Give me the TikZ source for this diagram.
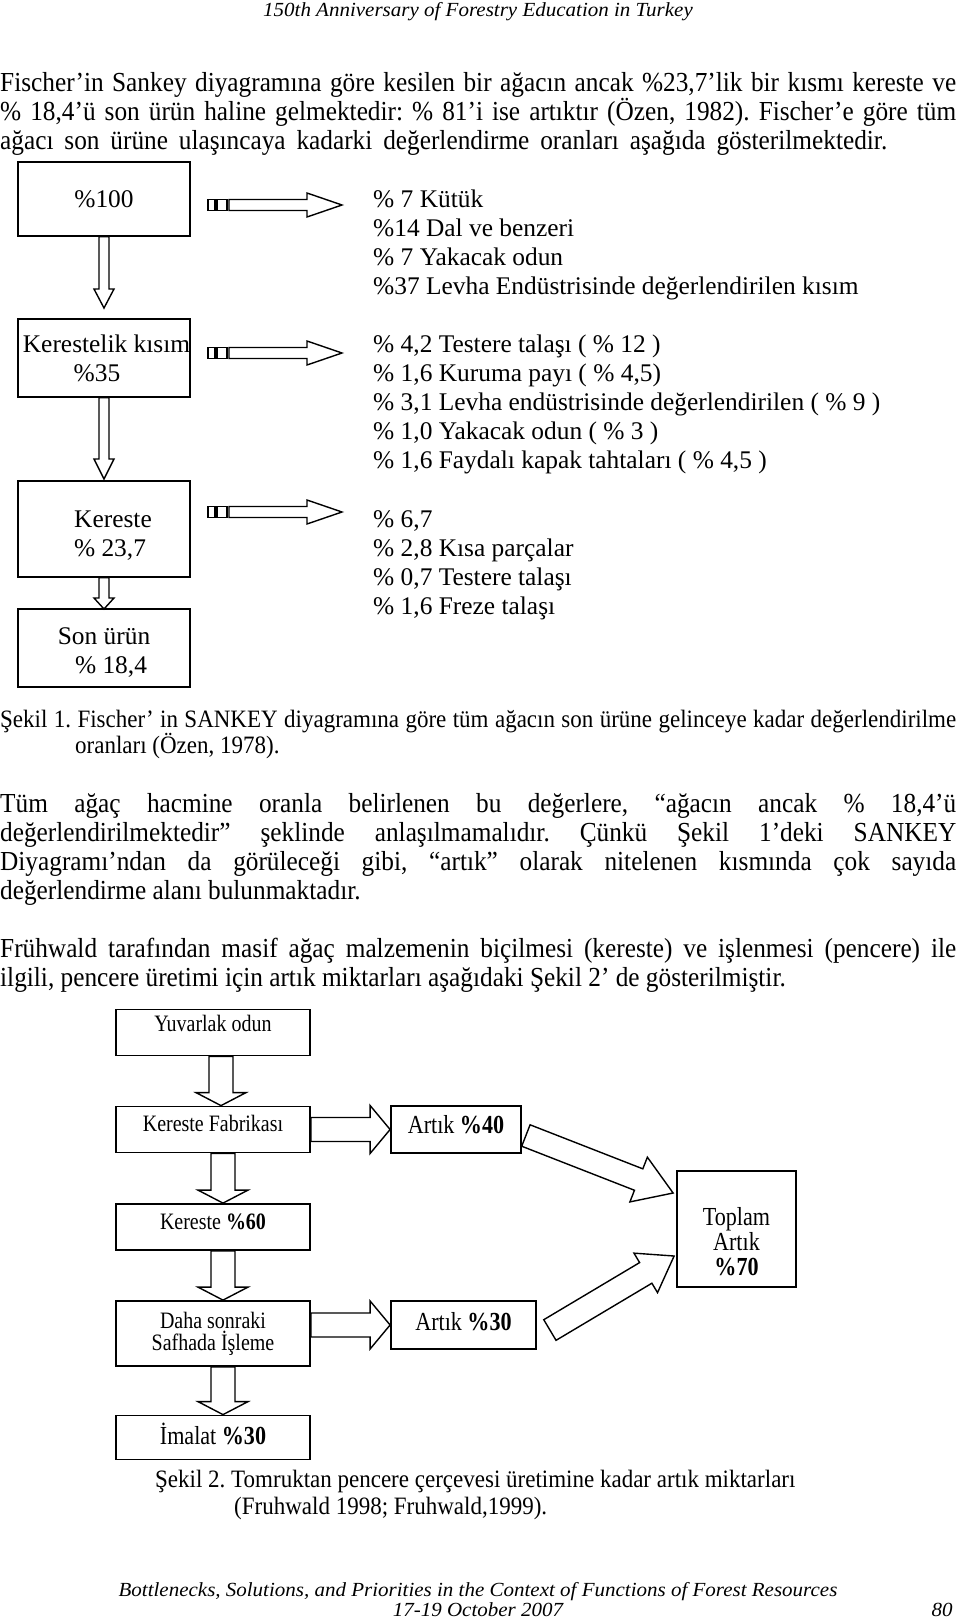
\documentclass[tikz,border=0pt]{standalone}
\usepackage{fontspec}
\setmainfont{Liberation Serif}
\newfontfamily\bodyfont[FakeStretch=0.92]{Liberation Serif}
\newfontfamily\narrowfont[FakeStretch=0.85]{Liberation Serif}
\newfontfamily\pagefont[FakeStretch=1.05]{Liberation Serif}
\usetikzlibrary{calc}
\frenchspacing

\tikzset{
  pagetext/.style={anchor=base west, inner sep=0pt, font=\bodyfont\fontsize{27.5}{29}\selectfont},
  captext/.style={anchor=base west, inner sep=0pt, font=\bodyfont\fontsize{25}{27}\selectfont},
  headtext/.style={anchor=base, inner sep=0pt, font=\pagefont\itshape\fontsize{20}{20}\selectfont},
  listtext/.style={anchor=base west, inner sep=0pt, font=\fontsize{25.4}{29}\selectfont},
  flowbox/.style={draw, line width=1.5pt, minimum width=172pt, inner sep=0pt, align=center, font=\fontsize{25.4}{29}\selectfont},
  stagebox/.style={draw, line width=1.8pt, minimum width=194pt, minimum height=46pt, inner sep=0pt, align=center, font=\narrowfont\fontsize{23.5}{22}\selectfont},
  wastebox/.style={stagebox, font=\narrowfont\fontsize{26}{25}\selectfont},
  hollow/.style={draw, line width=1.4pt, fill=white, line join=miter},
}

% hollow block arrow: tail, tip, half shaft, half head, head length
\newcommand{\fatarrow}[5]{%
  \coordinate (fa-s) at (#1);
  \coordinate (fa-t) at (#2);
  \coordinate (fa-b) at ($(fa-t)!#5!(fa-s)$);
  \draw[hollow] ($(fa-s)!#3!90:(fa-t)$) -- ($(fa-b)!#3!90:(fa-t)$) -- ($(fa-b)!#4!90:(fa-t)$) -- (fa-t)
    -- ($(fa-b)!#4!-90:(fa-t)$) -- ($(fa-b)!#3!-90:(fa-t)$) -- ($(fa-s)!#3!-90:(fa-t)$) -- cycle;}

\begin{document}
\begin{tikzpicture}[x=1pt,y=1pt,yscale=-1]
\path[fill=white] (0,0) rectangle (960,1620);

% Header
\node[headtext] (head) at (478,16) {150th Anniversary of Forestry Education in Turkey};

% Text Node
\foreach \txt [count=\i] in {{Fischer’in Sankey diyagramına göre kesilen bir ağacın ancak \%23,7’lik bir kısmı kereste ve},
  {\% 18,4’ü son ürün haline gelmektedir: \% 81’i ise artıktır (Özen, 1982). Fischer’e göre tüm}}
  \node[pagetext] (par1-\i) at (0,62+29*\i) {\makebox[956pt][s]{\txt}};
\node[pagetext] (par1-3) at (0,149) {\makebox[887pt][s]{ağacı son ürüne ulaşıncaya kadarki değerlendirme oranları aşağıda gösterilmektedir.}};

%Shape: Sankey boxes
\node[flowbox, minimum height=74pt] (b100) at (104,199) {\%100};
\node[flowbox, minimum height=78pt] (b35) at (104,358) {\hspace*{5pt}Kerestelik kısım\\\%35\hspace*{14pt}};
\node[flowbox, minimum height=96pt] (b237) at (104,529) {\rule{0pt}{29pt}\hspace*{18pt}Kereste\\\hspace*{12pt}\% 23,7};
\node[flowbox, minimum height=78pt] (b184) at (104,648) {\rule{0pt}{26pt}Son ürün\\\hspace*{14pt}\% 18,4};

% down arrows
\coordinate (d1) at (104,308);
\coordinate (d2) at (104,479);
\coordinate (d3) at (104,609);
\fatarrow{b100.south}{d1}{5pt}{10pt}{19pt}
\fatarrow{b35.south}{d2}{5pt}{10pt}{20pt}
\fatarrow{b237.south}{d3}{5pt}{10pt}{11pt}

% striped arrows
\foreach \y [count=\i] in {205,353,512}{
  \draw[line width=1.2pt] (208,\y-5.5) rectangle (215,\y+5.5);
  \draw[line width=1.2pt] (217,\y-5.5) rectangle (227,\y+5.5);
  \coordinate (sa\i) at (229,\y);
  \coordinate (sb\i) at (342,\y);
  \fatarrow{sa\i}{sb\i}{5.5pt}{12pt}{35pt}
}

% Text Node
\foreach \txt [count=\i from 0] in {{\% 7 Kütük},{\%14 Dal ve benzeri},{\% 7 Yakacak odun},{\%37 Levha Endüstrisinde değerlendirilen kısım}}
  \node[listtext] (la-\i) at (373,207+29*\i) {\txt};
\foreach \txt [count=\i from 0] in {{\% 4,2 Testere talaşı ( \% 12 )},{\% 1,6 Kuruma payı ( \% 4,5)},{\% 3,1 Levha endüstrisinde değerlendirilen ( \% 9 )},{\% 1,0 Yakacak odun ( \% 3 )},{\% 1,6 Faydalı kapak tahtaları ( \% 4,5 )}}
  \node[listtext] (lb-\i) at (373,352+29*\i) {\txt};
\foreach \txt [count=\i from 0] in {{\% 6,7},{\% 2,8 Kısa parçalar},{\% 0,7 Testere talaşı},{\% 1,6 Freze talaşı}}
  \node[listtext] (lc-\i) at (373,527+29*\i) {\txt};

% caption 1
\node[captext] (cap1-1) at (0,727) {\makebox[956pt][s]{Şekil 1. Fischer’ in SANKEY diyagramına göre tüm ağacın son ürüne gelinceye kadar değerlendirilme}};
\node[captext] (cap1-2) at (75,753) {oranları (Özen, 1978).};

% Text Node
\foreach \txt [count=\i] in {{Tüm ağaç hacmine oranla belirlenen bu değerlere, “ağacın ancak \% 18,4’ü},
  {değerlendirilmektedir” şeklinde anlaşılmamalıdır. Çünkü Şekil 1’deki SANKEY},
  {Diyagramı’ndan da görüleceği gibi, “artık” olarak nitelenen kısmında çok sayıda}}
  \node[pagetext] (par2-\i) at (0,783+29*\i) {\makebox[956pt][s]{\txt}};
\node[pagetext] (par2-4) at (0,899) {değerlendirme alanı bulunmaktadır.};

\node[pagetext] (par3-1) at (0,957) {\makebox[956pt][s]{Frühwald tarafından masif ağaç malzemenin biçilmesi (kereste) ve işlenmesi (pencere) ile}};
\node[pagetext] (par3-2) at (0,986) {ilgili, pencere üretimi için artık miktarları aşağıdaki Şekil 2’ de gösterilmiştir.};

%Shape: process boxes
\node[stagebox, text depth=19pt] (yuv) at (213,1032.5) {Yuvarlak odun};
\node[stagebox, text depth=12pt] (kf) at (213,1129.5) {Kereste Fabrikası};
\node[stagebox, text depth=10pt] (k60) at (213,1227) {Kereste \textbf{\%60}};
\node[stagebox, minimum height=65pt] (daha) at (213,1333.5) {Daha sonraki\\Safhada İşleme};
\node[wastebox, minimum height=44pt, text depth=7pt] (ima) at (213,1437.5) {İmalat \textbf{\%30}};
\node[wastebox, minimum width=130pt, minimum height=47pt, text depth=11pt] (a40) at (456,1129.5) {Artık \textbf{\%40}};
\node[wastebox, minimum width=145pt, minimum height=48pt, text depth=7pt] (a30) at (463.5,1325) {Artık \textbf{\%30}};
\node[wastebox, minimum width=119pt, minimum height=116pt] (top) at (736.5,1229) {\rule{0pt}{44pt}Toplam\\Artık\\\textbf{\%70}};

% process arrows
\coordinate (p1) at ($(yuv.south)+(8,0)$);
\coordinate (q1) at ($(kf.north)+(8,0)$);
\coordinate (p2) at ($(kf.south)+(10,0)$);
\coordinate (q2) at ($(k60.north)+(10,0)$);
\coordinate (p3) at ($(k60.south)+(10,0)$);
\coordinate (q3) at ($(daha.north)+(10,0)$);
\coordinate (p4) at ($(daha.south)+(10,0)$);
\coordinate (q4) at ($(ima.north)+(10,0)$);
\fatarrow{p1}{q1}{12pt}{25pt}{13pt}
\fatarrow{p2}{q2}{12pt}{25pt}{13pt}
\fatarrow{p3}{q3}{12pt}{25pt}{13pt}
\fatarrow{p4}{q4}{12pt}{25pt}{13pt}
\fatarrow{kf.east}{a40.west}{12pt}{24pt}{20pt}
\coordinate (r2) at (daha.east |- a30.west);
\fatarrow{r2}{a30.west}{12pt}{24pt}{20pt}

% to total
\coordinate (t1s) at ($(a40.east)+(4,6)$);
\coordinate (t1) at ($(top.west)+(-3,-36)$);
\coordinate (t2s) at ($(a30.east)+(13,5)$);
\coordinate (t2) at ($(top.west)+(-2,27)$);
\fatarrow{t1s}{t1}{11.5pt}{24pt}{37pt}
\fatarrow{t2s}{t2}{12pt}{23pt}{33pt}

% caption 2
\node[captext] (cap2-1) at (155,1487) {Şekil 2. Tomruktan pencere çerçevesi üretimine kadar artık miktarları};
\node[captext] (cap2-2) at (234,1514) {(Fruhwald 1998; Fruhwald,1999).};

% Footer
\node[headtext] (foot1) at (478,1596) {Bottlenecks, Solutions, and Priorities in the Context of Functions of Forest Resources};
\node[headtext] (foot2) at (478,1616) {17-19 October 2007};
\node[headtext] (pageno) at (942,1616) {80};
\end{tikzpicture}
\end{document}
